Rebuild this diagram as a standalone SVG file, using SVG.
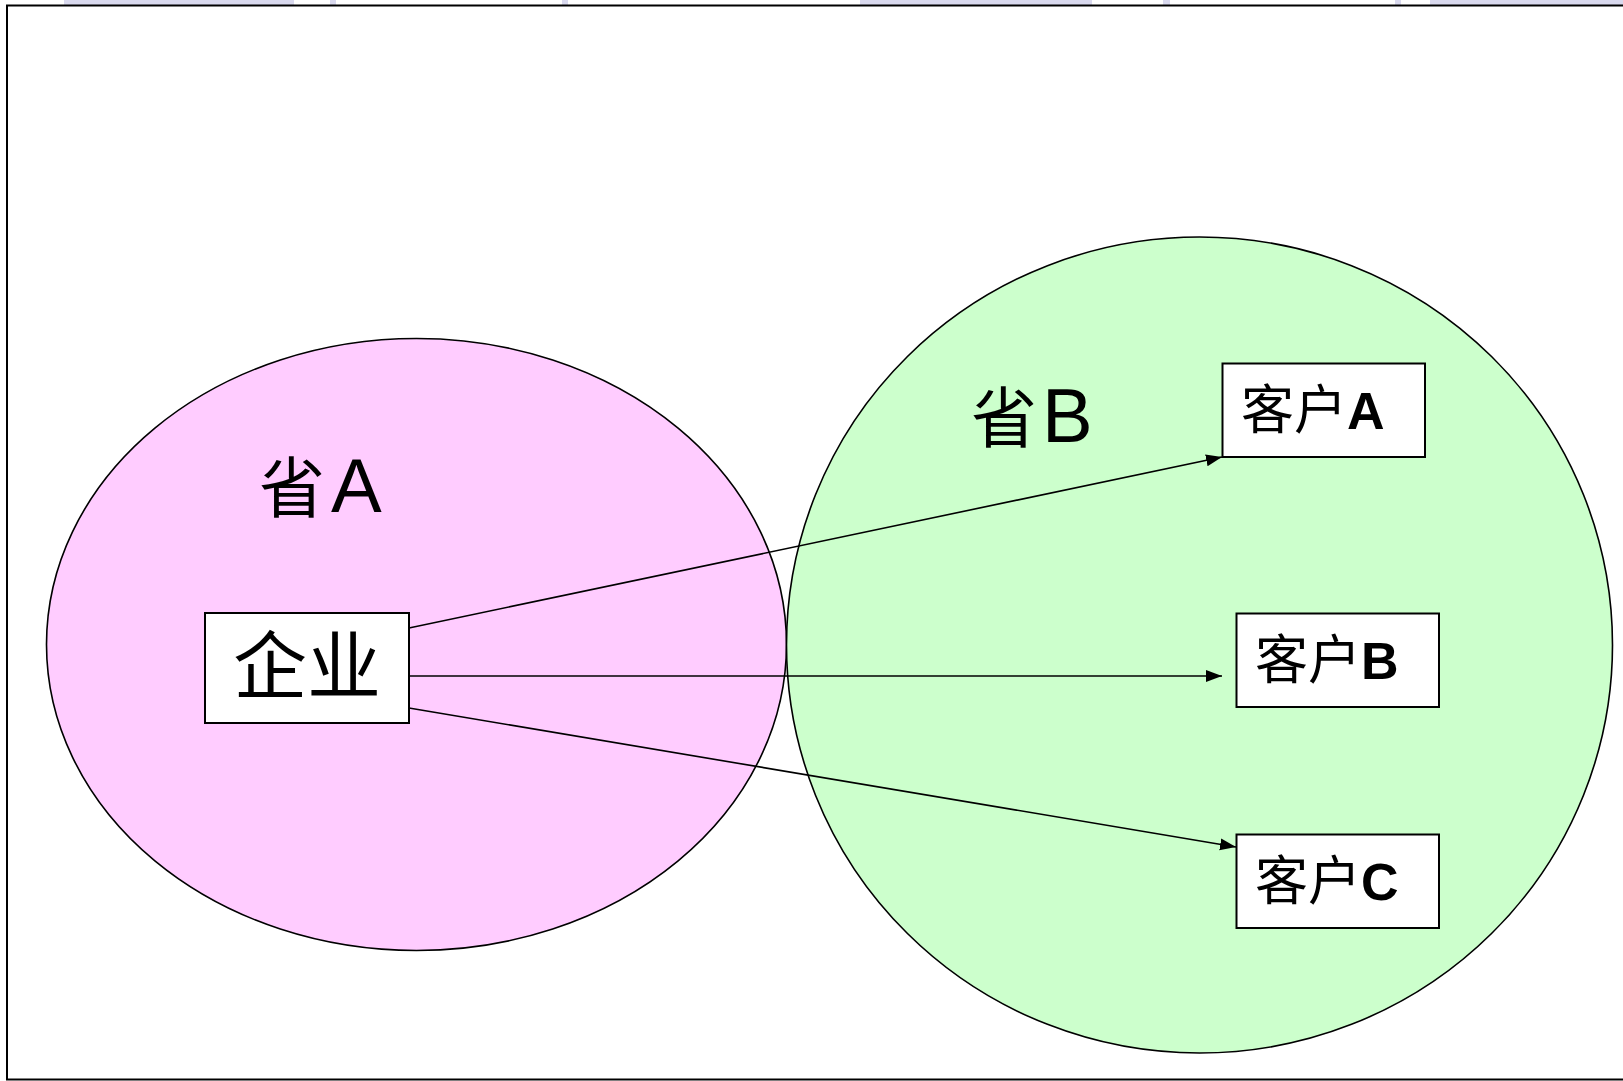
<svg xmlns="http://www.w3.org/2000/svg" width="1623" height="1081" viewBox="0 0 1623 1081">
  <style>
    .box { fill: #ffffff; stroke: #000000; stroke-width: 2; }
    .conn { stroke: #000000; stroke-width: 1.6; fill: none; marker-end: url(#arrow); }
    .cjk { font-family: "Noto Sans CJK SC", "Liberation Sans", sans-serif; fill: #000; }
    .lat { font-family: "Liberation Sans", Arial, sans-serif; fill: #000; }
    .tab { fill: #d9d9ee; }
  </style>
  <defs>
    <marker id="arrow" markerUnits="userSpaceOnUse" markerWidth="18" markerHeight="14" refX="16" refY="6" orient="auto">
      <path d="M0,0 L16,6 L0,12 Z" fill="#000"/>
    </marker>
  </defs>
  <rect x="0" y="0" width="1623" height="1081" fill="#ffffff"/>
  <g id="top-tabs">
    <rect class="tab" x="64" y="0" width="230" height="5"/>
    <rect class="tab" x="330" y="0" width="6" height="5"/>
    <rect class="tab" x="562" y="0" width="6" height="5"/>
    <rect class="tab" x="860" y="0" width="232" height="5"/>
    <rect class="tab" x="1163" y="0" width="7" height="5"/>
    <rect class="tab" x="1395" y="0" width="6" height="5"/>
    <rect class="tab" x="1430" y="0" width="193" height="5"/>
  </g>
  <rect id="frame" x="7" y="5.5" width="1700" height="1074" fill="none" stroke="#000" stroke-width="2"/>

  <g id="provinceA">
    <ellipse cx="416.5" cy="644.5" rx="370" ry="306" fill="#ffccff" stroke="#000" stroke-width="1.6"/>
    <text y="512" font-size="66"><tspan class="cjk" x="259">省</tspan><tspan class="lat" x="331" font-size="76">A</tspan></text>
  </g>
  <g id="provinceB">
    <ellipse cx="1199.5" cy="645" rx="413" ry="408" fill="#ccffcc" stroke="#000" stroke-width="1.6"/>
    <text y="442" font-size="66"><tspan class="cjk" x="971">省</tspan><tspan class="lat" x="1042" font-size="76">B</tspan></text>
  </g>

  <g id="company">
    <rect class="box" x="205" y="613" width="204" height="110"/>
    <text class="cjk" x="307" y="693" font-size="74" text-anchor="middle">企业</text>
  </g>

  <g id="customerA">
    <rect class="box" x="1222.5" y="363.5" width="202.5" height="93.5"/>
    <text y="429"><tspan class="cjk" x="1241" font-size="53">客户</tspan><tspan class="lat" x="1347" font-size="52" font-weight="bold">A</tspan></text>
  </g>
  <g id="customerB">
    <rect class="box" x="1236.5" y="613.5" width="202.5" height="93.5"/>
    <text y="678.5"><tspan class="cjk" x="1255" font-size="53">客户</tspan><tspan class="lat" x="1361" font-size="52" font-weight="bold">B</tspan></text>
  </g>
  <g id="customerC">
    <rect class="box" x="1236.5" y="834.5" width="202.5" height="93.5"/>
    <text y="899.5"><tspan class="cjk" x="1255" font-size="53">客户</tspan><tspan class="lat" x="1361" font-size="52" font-weight="bold">C</tspan></text>
  </g>

  <g id="connectors">
    <line class="conn" x1="409" y1="628" x2="1222" y2="457"/>
    <line class="conn" x1="409" y1="676" x2="1222" y2="676"/>
    <line class="conn" x1="409" y1="708" x2="1236" y2="847"/>
  </g>
</svg>
